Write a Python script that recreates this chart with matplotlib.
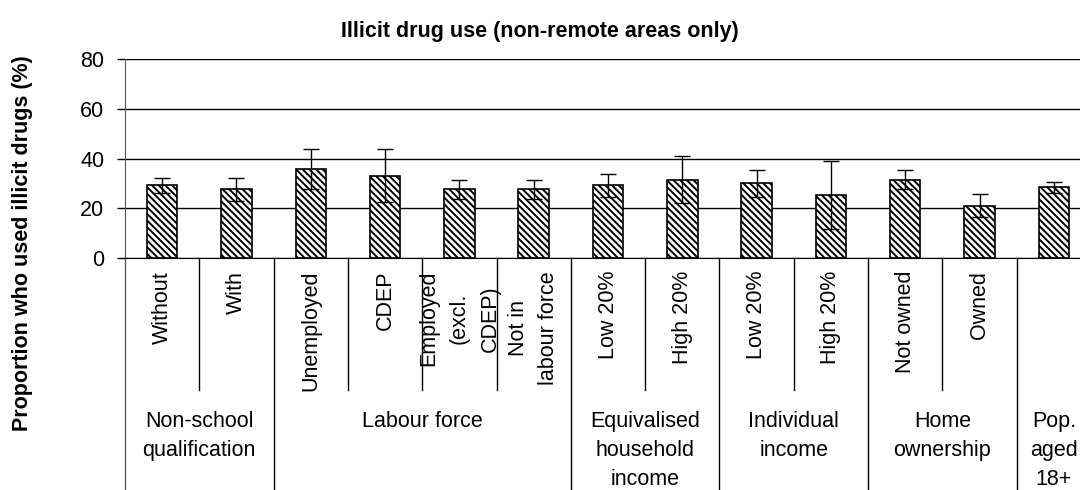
import numpy as np
import matplotlib
matplotlib.use('Agg')
import matplotlib.pyplot as plt

plt.rcParams['font.family'] = ['Liberation Sans', 'DejaVu Sans']
plt.rcParams['hatch.linewidth'] = 1.4

# Data
sub_labels = ['Without', 'With', 'Unemployed', 'CDEP', 'Employed\n(excl.\nCDEP)',
              'Not in\nlabour force', 'Low 20%', 'High 20%', 'Low 20%', 'High 20%',
              'Not owned', 'Owned', '']
group_labels = ['Non-school\nqualification', 'Labour force',
                'Equivalised\nhousehold\nincome', 'Individual\nincome',
                'Home\nownership', 'Pop.\naged\n18+']
group_sizes = [2, 4, 2, 2, 2, 1]
values = [29.2, 27.6, 35.8, 33.2, 27.6, 27.6, 29.2, 31.6, 30.0, 25.2, 31.6, 21.1, 28.4]
errors = [3.1, 4.7, 8.0, 10.5, 4.0, 4.0, 4.8, 9.5, 5.6, 13.7, 4.0, 4.7, 2.2]

fig = plt.figure(figsize=(10.8, 4.9), dpi=100)
# axes runs off the right edge, like the reference
ax = fig.add_axes([125 / 1080, 232 / 490, 966 / 1080, 198.7 / 490])

x = np.arange(len(values))
ax.bar(x, values, width=0.41, color='white', edgecolor='black', linewidth=1.2,
       hatch='\\\\\\\\\\', zorder=2)
ax.errorbar(x, values, yerr=errors, fmt='none', ecolor='black', elinewidth=1,
            capsize=6, capthick=1, zorder=3)

ax.set_xlim(-0.5, len(values) - 0.5)
ax.set_ylim(0, 80)
ax.set_yticks([0, 20, 40, 60, 80])
ax.yaxis.grid(True, color='black', linewidth=1)
ax.set_axisbelow(True)
ax.set_xticks([])
ax.tick_params(axis='y', direction='out', length=6, width=1, pad=9, labelsize=15.5)
for s in ['top', 'right']:
    ax.spines[s].set_visible(False)
ax.spines['left'].set_color('#555555')

trans = ax.get_xaxis_transform()
bottom = -232 / 198.7
mid = -131.7 / 198.7

# sub-category labels and separators
for i, lab in enumerate(sub_labels):
    ax.text(i, -0.065, lab, transform=trans, rotation=90, ha='center', va='top',
            multialignment='center', fontsize=15.5, linespacing=1.6)

edges = np.cumsum([0] + group_sizes)
for i in range(1, len(values)):
    ymin = bottom if i in edges else mid
    ax.plot([i - 0.5, i - 0.5], [0, ymin], transform=trans, color='black',
            linewidth=1, clip_on=False)
ax.plot([-0.5, -0.5], [0, bottom], transform=trans, color='#555555',
        linewidth=1, clip_on=False)

# group labels
for g, lab in enumerate(group_labels):
    c = (edges[g] + edges[g + 1] - 1) / 2
    ax.text(c, -0.77, lab, transform=trans, ha='center', va='top',
            multialignment='center', fontsize=15.5, linespacing=1.5)

fig.text(0.5, 1 - 31 / 490, 'Illicit drug use (non-remote areas only)',
         ha='center', va='center', fontsize=15.5, fontweight='bold')
fig.text(23 / 1080, 1 - 243 / 490, 'Proportion who used illicit drugs (%)',
         rotation=90, ha='center', va='center', fontsize=15.5, fontweight='bold')

fig.savefig('out.png', dpi=100)
